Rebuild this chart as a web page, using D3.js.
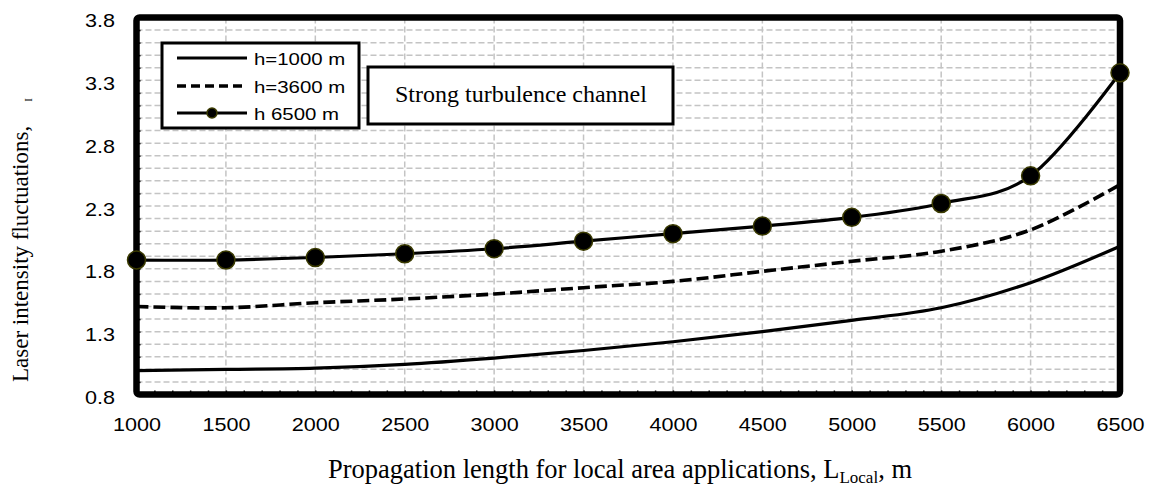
<!DOCTYPE html>
<html>
<head>
<meta charset="utf-8">
<script src="https://cdn.jsdelivr.net/npm/d3@7"></script>
<style>
body { margin: 0; background: #fff; }
svg { display: block; }
</style>
</head>
<body>
<div id="chart-area"></div>
<script>
// data
var lengths = [1000, 1500, 2000, 2500, 3000, 3500, 4000, 4500, 5000, 5500, 6000, 6500];
var h1000 = [0.99, 1.00, 1.01, 1.04, 1.09, 1.15, 1.22, 1.30, 1.39, 1.49, 1.69, 1.98];
var h3600 = [1.50, 1.49, 1.53, 1.56, 1.60, 1.65, 1.70, 1.78, 1.86, 1.94, 2.11, 2.47];
var h6500 = [1.87, 1.87, 1.89, 1.92, 1.96, 2.02, 2.08, 2.14, 2.21, 2.32, 2.54, 3.36];
var yTickValues = [0.8, 1.3, 1.8, 2.3, 2.8, 3.3, 3.8];
var legendNames = ["h=1000 m", "h=3600 m", "h 6500 m"];

var margin = {top: 17.5, right: 32, bottom: 94.5, left: 136.5};
var width = 1152 - margin.left - margin.right,
	height = 489 - margin.top - margin.bottom;

var svg = d3.select("#chart-area").append("svg")
	.attr("width", 1152).attr("height", 489)
	.append("g")
	.attr("transform", "translate(" + margin.left + "," + margin.top + ")");

var x = d3.scaleLinear().domain([1000, 6500]).range([0, width]);
var y = d3.scaleLinear().domain([0.8, 3.8]).range([height, 0]);

var sans = "'Liberation Sans', Arial, sans-serif";
var serif = "'Liberation Serif', 'Times New Roman', serif";
var stretch = 1.2;

// grid
var minorY = y.ticks(30).filter(function(d) { return d > 0.85 && d < 3.75; });
svg.append("g").selectAll("line")
	.data(minorY).enter().append("line")
	.attr("x1", 0).attr("x2", width)
	.attr("y1", function(d) { return y(d); })
	.attr("y2", function(d) { return y(d); })
	.attr("stroke", "#c4c4c4").attr("stroke-width", 1.5)
	.attr("stroke-dasharray", "6,3");
svg.append("g").selectAll("line")
	.data(lengths.slice(1, -1)).enter().append("line")
	.attr("y1", 0).attr("y2", height)
	.attr("x1", function(d) { return x(d); })
	.attr("x2", function(d) { return x(d); })
	.attr("stroke", "#c4c4c4").attr("stroke-width", 1.5)
	.attr("stroke-dasharray", "6,3");

// small inside ticks
var yMinor = svg.append("g").call(d3.axisLeft(y).ticks(30).tickSize(-4).tickFormat(""));
var xMinor = svg.append("g").attr("transform", "translate(0," + height + ")")
	.call(d3.axisBottom(x).ticks(55).tickSize(-4).tickFormat(""));
[yMinor, xMinor].forEach(function(g) {
	g.select(".domain").remove();
	g.selectAll("line").attr("stroke", "#000").attr("stroke-width", 1.5);
});

// labels
var yAxis = svg.append("g")
	.call(d3.axisLeft(y).tickValues(yTickValues).tickSize(0).tickFormat(d3.format(".1f")));
yAxis.select(".domain").remove();
yAxis.selectAll("text")
	.attr("x", -21.5 / stretch).attr("dy", "0.5em")
	.attr("transform", "scale(" + stretch + ",1)")
	.style("font-family", sans).style("font-size", "18px").attr("fill", "#000");

var xAxis = svg.append("g").attr("transform", "translate(0," + height + ")")
	.call(d3.axisBottom(x).tickValues(lengths).tickSize(0).tickFormat(d3.format("d")));
xAxis.select(".domain").remove();
xAxis.selectAll("text")
	.attr("y", 37).attr("dy", 0)
	.attr("transform", "scale(" + stretch + ",1)")
	.style("font-family", sans).style("font-size", "18px").attr("fill", "#000");

// frame
svg.append("rect")
	.attr("x", 0).attr("y", 0).attr("width", width).attr("height", height)
	.attr("rx", 3)
	.attr("fill", "none").attr("stroke", "#000").attr("stroke-width", 6.5);

// series
var line = d3.line()
	.x(function(d, i) { return x(lengths[i]); })
	.y(function(d) { return y(d); })
	.curve(d3.curveCatmullRom.alpha(0));

svg.append("path").datum(h1000)
	.attr("d", line).attr("fill", "none")
	.attr("stroke", "#000").attr("stroke-width", 3.2);
svg.append("path").datum(h3600)
	.attr("d", line).attr("fill", "none")
	.attr("stroke", "#000").attr("stroke-width", 3.6)
	.attr("stroke-dasharray", "12,5");
svg.append("path").datum(h6500)
	.attr("d", line).attr("fill", "none")
	.attr("stroke", "#000").attr("stroke-width", 3.2);
svg.selectAll("circle.mk")
	.data(h6500).enter().append("circle")
	.attr("class", "mk")
	.attr("cx", function(d, i) { return x(lengths[i]); })
	.attr("cy", function(d) { return y(d); })
	.attr("r", 9)
	.attr("fill", "#000").attr("stroke", "#3a3a00").attr("stroke-width", 1.5);

// legend
var root = d3.select("svg");
var legend = root.append("g");
legend.append("rect")
	.attr("x", 162).attr("y", 43).attr("width", 197).attr("height", 85)
	.attr("fill", "#fff").attr("stroke", "#000").attr("stroke-width", 3);
var rows = [58, 86, 113];
legendNames.forEach(function(name, i) {
	var ln = legend.append("line")
		.attr("x1", 177).attr("x2", 247).attr("y1", rows[i]).attr("y2", rows[i])
		.attr("stroke", "#000").attr("stroke-width", i == 1 ? 3.6 : 3);
	if (i == 1) ln.attr("stroke-dasharray", "9,5");
	if (i == 2) {
		legend.append("circle").attr("cx", 212).attr("cy", rows[i]).attr("r", 5)
			.attr("fill", "#000").attr("stroke", "#3a3a00").attr("stroke-width", 1.5);
	}
	legend.append("text")
		.attr("transform", "translate(254," + (rows[i] + 6.5) + ") scale(" + stretch + ",1)")
		.style("font-family", sans).style("font-size", "17px")
		.text(name);
});

// note box
root.append("rect")
	.attr("x", 368).attr("y", 67).attr("width", 305).attr("height", 57)
	.attr("fill", "#fff").attr("stroke", "#000").attr("stroke-width", 3);
root.append("text")
	.attr("x", 395).attr("y", 102)
	.style("font-family", serif).style("font-size", "24px")
	.text("Strong turbulence channel");

// axis titles
var xt = root.append("text")
	.attr("x", 328).attr("y", 478)
	.style("font-family", serif).style("font-size", "26.5px");
xt.append("tspan").text("Propagation length for local area applications, L");
xt.append("tspan").attr("dy", 5).style("font-size", "17px").text("Local");
xt.append("tspan").attr("dy", -5).text(", m");

var yt = root.append("text")
	.attr("transform", "translate(28,382) rotate(-90)")
	.style("font-family", serif).style("font-size", "23px");
yt.append("tspan").text("Laser intensity fluctuations,");
yt.append("tspan").attr("dx", 24).attr("dy", 4).style("font-size", "11px").text("I");
</script>
</body>
</html>
